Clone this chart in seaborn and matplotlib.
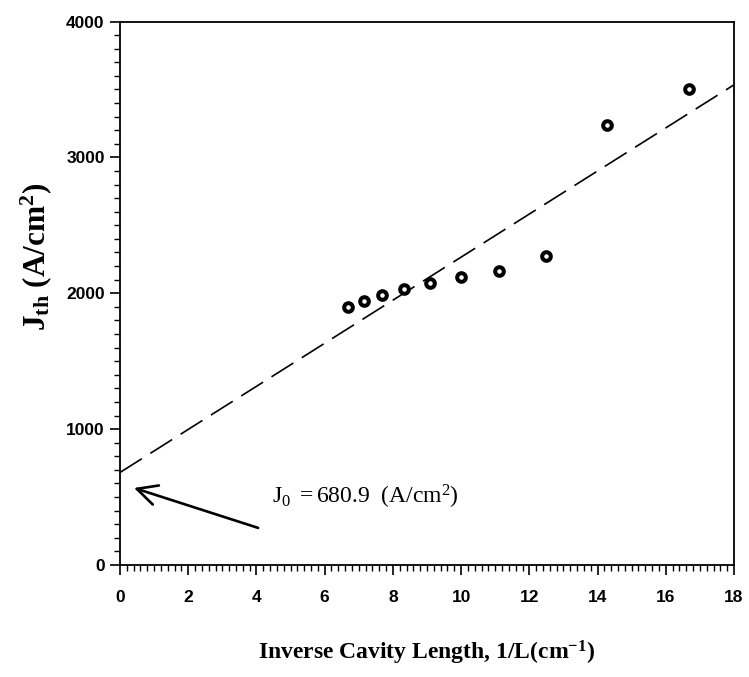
import matplotlib
matplotlib.use("Agg")
import matplotlib.pyplot as plt
import seaborn as sns
import pandas as pd
from matplotlib.ticker import MultipleLocator

# ---- data ----
inv_length = [6.67, 7.14, 7.69, 8.33, 9.09, 10.0, 11.11, 12.5, 14.29, 16.67]
jth = [1900, 1945, 1987, 2029, 2073, 2121, 2163, 2276, 3238, 3500]
fit_x = [0, 18]
fit_y = [680.9, 3534]
x_ticks = [0, 2, 4, 6, 8, 10, 12, 14, 16, 18]
y_ticks = [0, 1000, 2000, 3000, 4000]

sns.set_style("ticks")
plt.rcParams["mathtext.fontset"] = "custom"
plt.rcParams["mathtext.rm"] = "Liberation Serif"
plt.rcParams["mathtext.bf"] = "Liberation Serif:bold"
plt.rcParams["mathtext.it"] = "Liberation Serif:italic"
plt.rcParams["text.color"] = "black"
plt.rcParams["axes.labelcolor"] = "black"

fig = plt.figure(figsize=(7.49, 6.77), dpi=100)
ax = fig.add_axes([120/749, 1 - 565/677, (734 - 120)/749, (565 - 21.5)/677])

df_pts = pd.DataFrame({"x": inv_length, "y": jth})
df_fit = pd.DataFrame({"x": fit_x, "y": fit_y})

sns.lineplot(data=df_fit, x="x", y="y", ax=ax, color="black", linewidth=1.2,
             dashes=False)
ax.lines[-1].set_dashes((15.5, 6))
ax.plot(df_pts["x"], df_pts["y"], linestyle="none", marker="o", markersize=6.2,
        markerfacecolor="white", markeredgecolor="black", markeredgewidth=2.9,
        zorder=5)

ax.set_xlim(0, 18)
ax.set_ylim(0, 4000)
ax.set_xticks(x_ticks)
ax.set_yticks(y_ticks)
ax.xaxis.set_minor_locator(MultipleLocator(0.2))
ax.yaxis.set_minor_locator(MultipleLocator(100))

for s in ax.spines.values():
    s.set_linewidth(1.3)
    s.set_color("black")

ax.tick_params(which="major", direction="out", length=7, width=1.2,
               colors="black")
ax.tick_params(which="minor", direction="out", length=4, width=1.0,
               colors="black")
ax.tick_params(axis="x", which="major", pad=11)
ax.tick_params(axis="y", which="major", pad=4)
for lab in ax.get_xticklabels() + ax.get_yticklabels():
    lab.set_fontfamily("Liberation Sans")
    lab.set_fontweight("bold")
    lab.set_fontsize(12.5)

ax.set_xlabel(r"Inverse Cavity Length, 1/L(cm$^{\mathbf{-1}}$)",
              fontsize=17, fontfamily="Liberation Serif", fontweight="bold",
              color="black")
ax.xaxis.set_label_coords(0.5, -0.135)
ax.set_ylabel(r"$\mathbf{J_{th}\ (A/cm^{2})}$", fontsize=22.5, color="black")
ax.yaxis.set_label_coords(-0.107, 0.567)

ax.annotate("", xy=(0.41, 567), xytext=(4.05, 273),
            arrowprops=dict(arrowstyle="->", color="black", lw=1.9,
                            mutation_scale=36, shrinkA=0, shrinkB=0))
ax.text(4.45, 456, r"$\mathrm{J_{0}\ =680.9\ \ (A/cm^{2})}$", fontsize=17,
        ha="left", va="baseline", color="black")

fig.savefig("out.png", dpi=100, facecolor="white")
